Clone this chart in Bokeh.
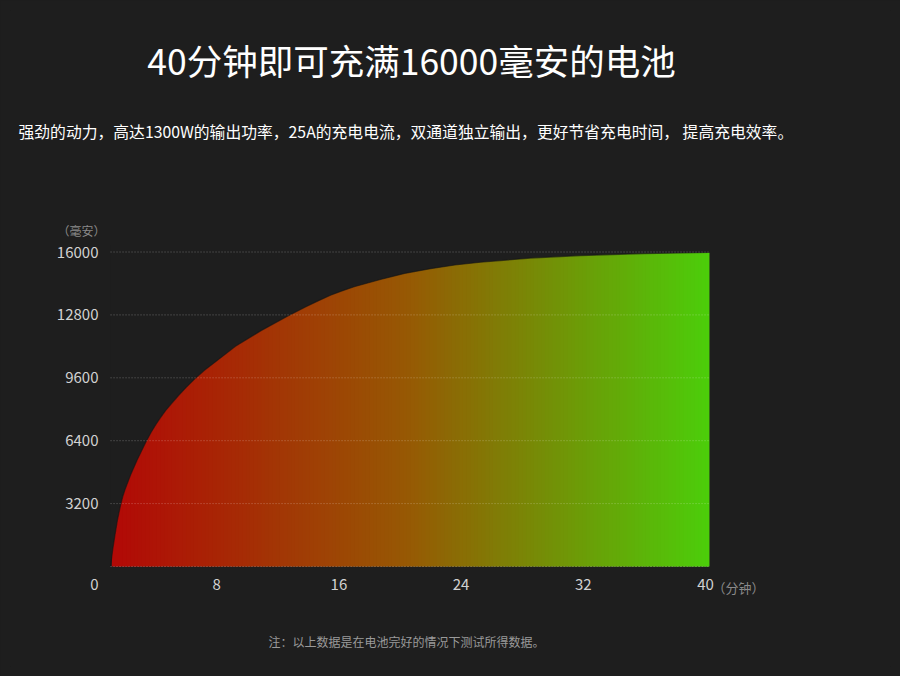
from bokeh.plotting import figure
from bokeh.models import Range1d, FixedTicker, Label
from bokeh.embed import file_html
from bokeh.resources import INLINE

# ---- data ----
minutes = [1.05, 1.2, 1.35, 1.5, 1.7, 1.85, 2.0, 2.36, 2.8, 3.0, 3.34, 3.7, 4.0, 4.3, 4.65,
           5.0, 5.5, 6.0, 6.61, 7.2, 8.0, 9.23, 10.9, 12.6, 13.81, 14.6, 15.45, 16.2,
           17.0, 18.72, 20.3, 22.0, 23.6, 25.27, 28.54, 31.82, 36.0, 40.26]
capacity = [0, 900, 1650, 2350, 3100, 3560, 3920, 4650, 5430, 5750, 6300, 6820, 7200, 7550,
            7930, 8250, 8700, 9110, 9580, 9980, 10460, 11200, 12000, 12720, 13200, 13500,
            13800, 14020, 14230, 14600, 14910, 15150, 15340, 15480, 15690, 15820, 15920,
            15980]
x_ticks = [0, 8, 16, 24, 32, 40]
y_ticks = [3200, 6400, 9600, 12800, 16000]

title_text = "40分钟即可充满16000毫安的电池"
subtitle_text = "强劲的动力，高达1300W的输出功率，25A的充电电流，双通道独立输出，更好节省充电时间， 提高充电效率。"
note_text = "注：以上数据是在电池完好的情况下测试所得数据。"
y_unit = "（毫安）"
x_unit = "（分钟）"

BG = "#1e1e1e"
FONT = "Noto Sans CJK SC"
W, H = 900, 676
FL, FR, FT, FB = 10, 890, 10, 666      # frame edges on the page
X0PX, XSCALE = 94.0, 15.275            # page x of minute 0, px per minute
Y0PX, YSCALE = 566.0, 0.019656         # page y of 0 mAh, px per mAh

p = figure(width=W, height=H, output_backend="svg", toolbar_location=None,
           x_range=Range1d((FL - X0PX) / XSCALE, (FR - X0PX) / XSCALE),
           y_range=Range1d((Y0PX - FB) / YSCALE, (Y0PX - FT) / YSCALE),
           min_border_left=FL, min_border_right=W - FR, min_border_top=FT,
           min_border_bottom=H - FB)
p.background_fill_color = BG
p.border_fill_color = BG
p.outline_line_color = None
p.xgrid.visible = False
p.ygrid.visible = False

# ---- gradient fill (style strips) ----
stops = [(0.0, (178, 8, 6)), (0.5, (150, 90, 4)), (1.0, (76, 206, 10))]
def grad(f):
    for (f0, c0), (f1, c1) in zip(stops[:-1], stops[1:]):
        if f <= f1:
            t = (f - f0) / (f1 - f0)
            return "#%02x%02x%02x" % tuple(int(round(a + (b - a) * t)) for a, b in zip(c0, c1))
    return "#%02x%02x%02x" % stops[-1][1]

N = 160
x0, x1 = minutes[0], minutes[-1]
inset = 0.08
w = (x1 - x0 - inset) / N
lefts = [x0 + inset + i * w for i in range(N)]
rights = [min(l + w * 1.6, x1) for l in lefts]
cols = [grad((i + 0.5) / N) for i in range(N)]
top = max(capacity)
p.quad(left=lefts, right=rights, bottom=0, top=top, fill_color=cols, line_color=None)

# mask above the curve
p.varea(x=minutes, y1=capacity, y2=top + 400, fill_color=BG)
p.line(minutes, capacity, line_color="#141414", line_alpha=0.6, line_width=1.2)

# dotted grid lines
gy = [0] + y_ticks
p.segment(x0=[x0] * len(gy), x1=[x1] * len(gy), y0=gy, y1=gy,
          line_color="white", line_alpha=0.32, line_width=1, line_dash="1 2")

# ---- axes (labels pulled into the frame area) ----
for ax in (p.xaxis[0], p.yaxis[0]):
    ax.axis_line_color = None
    ax.major_tick_line_color = None
    ax.minor_tick_line_color = None
    ax.major_tick_out = 0
    ax.major_tick_in = 0
    ax.major_label_text_color = "#d2d2d2"
    ax.major_label_text_font = FONT
    ax.major_label_text_font_size = "15px"
p.xaxis[0].ticker = FixedTicker(ticks=x_ticks)
p.yaxis[0].ticker = FixedTicker(ticks=y_ticks)
p.xaxis[0].major_label_standoff = -(FB - 578)
p.yaxis[0].major_label_standoff = -(98 - FL)

# ---- texts (screen units are relative to the frame's bottom-left) ----
def put(px, py, text, size, color, align="left"):
    p.add_layout(Label(x=px - FL, y=FB - py, x_units="screen", y_units="screen",
                       text=text, text_color=color, text_font=FONT,
                       text_font_size=size, text_align=align, text_baseline="middle"))

put(411, 59, title_text, "35.5px", "white", "center")
put(18, 131, subtitle_text, "15.8px", "white")
put(406, 641, note_text, "12px", "#9a9a9a", "center")
put(57, 230, y_unit, "12px", "#8a8a8a")
put(712, 587, x_unit, "13px", "#8a8a8a")

html = file_html(p, INLINE)
html = html.replace("</head>", "<style>html, body { background-color: %s !important; }</style></head>" % BG, 1)
open("out.html", "w").write(html)
